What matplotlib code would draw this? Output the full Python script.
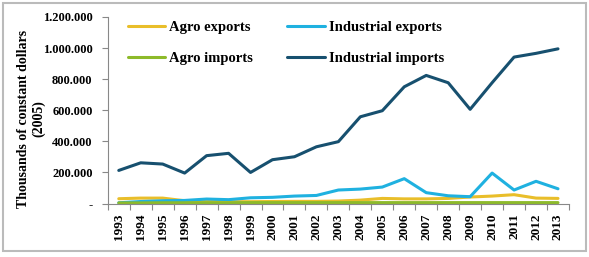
import matplotlib
matplotlib.use("Agg")
import matplotlib.pyplot as plt
from matplotlib.ticker import FuncFormatter, FixedLocator
from matplotlib.patches import Rectangle

years = [str(y) for y in range(1993, 2014)]
agro_exports = [31, 35, 35, 18, 14, 12, 12, 13, 14, 14, 16, 22, 33, 30, 30, 33, 42, 48, 57, 35, 33]
industrial_exports = [5, 13, 18, 20, 29, 25, 37, 40, 48, 52, 87, 93, 106, 160, 70, 50, 44, 196, 87, 143, 95]
agro_imports = [4, 4, 5, 5, 5, 5, 6, 6, 6, 6, 6, 6, 6, 6, 6, 6, 6, 6, 6, 6, 6]
industrial_imports = [213, 262, 254, 196, 308, 323, 200, 282, 301, 365, 398, 558, 597, 751, 824, 777, 606, 777, 942, 966, 995]

series = [
    ("Agro exports", agro_exports, "#E9BE2A"),
    ("Industrial exports", industrial_exports, "#1FB1E0"),
    ("Agro imports", agro_imports, "#8DBA2A"),
    ("Industrial imports", industrial_imports, "#17506F"),
]

plt.rcParams['font.family'] = ['Liberation Serif', 'DejaVu Serif']
plt.rcParams['font.weight'] = 'bold'

fig = plt.figure(figsize=(5.89, 2.57), dpi=100)
ax = fig.add_axes([0.183, 0.208, 0.783, 0.726])

x = list(range(len(years)))
lines = {}
for name, vals, col in series:
    (ln,) = ax.plot(x, [v * 1000 for v in vals], color=col, lw=2.2, label=name, solid_capstyle='round')
    lines[name] = ln

ax.set_xlim(-0.5, len(years) - 0.5)
ax.set_ylim(0, 1200000)
ax.set_yticks(range(0, 1200001, 200000))

def fmt(v, pos):
    if v == 0:
        return "-"
    return f"{int(v):,}".replace(",", ".")
ax.yaxis.set_major_formatter(FuncFormatter(fmt))

ax.set_xticks(x)
ax.set_xticklabels(years, rotation=90, fontsize=9.5, fontweight='bold')
ax.xaxis.set_minor_locator(FixedLocator([i - 0.5 for i in range(len(years) + 1)]))
ax.tick_params(axis='x', which='major', length=0, pad=7)
ax.tick_params(axis='x', which='minor', length=4, color='#888888', width=0.8)
ax.tick_params(axis='y', length=4, color='#888888', width=0.8, labelsize=9, pad=7)
for lab in ax.get_yticklabels():
    lab.set_fontweight('bold')

for s in ['top', 'right']:
    ax.spines[s].set_visible(False)
for s in ['left', 'bottom']:
    ax.spines[s].set_color('#888888')
    ax.spines[s].set_linewidth(0.8)

ax.set_ylabel("Thousands of constant dollars\n(2005)", fontsize=10, fontweight='bold', linespacing=1.15)
ax.yaxis.set_label_coords(-0.136, 0.455)

order = ["Agro exports", "Agro imports", "Industrial exports", "Industrial imports"]
leg = ax.legend([lines[n] for n in order], order, loc='upper left', bbox_to_anchor=(0.043, 0.979),
                ncol=2, frameon=False, borderpad=0, borderaxespad=0,
                prop={'size': 10.5, 'weight': 'bold'}, handlelength=2.55, handletextpad=0.3,
                columnspacing=2.35, labelspacing=1.2)

fig.patches.append(Rectangle((0.005, 0.022), 0.99, 0.968, transform=fig.transFigure,
                             fill=False, edgecolor='#BBBBBB', lw=1.5))

fig.savefig("out.png", dpi=100)
